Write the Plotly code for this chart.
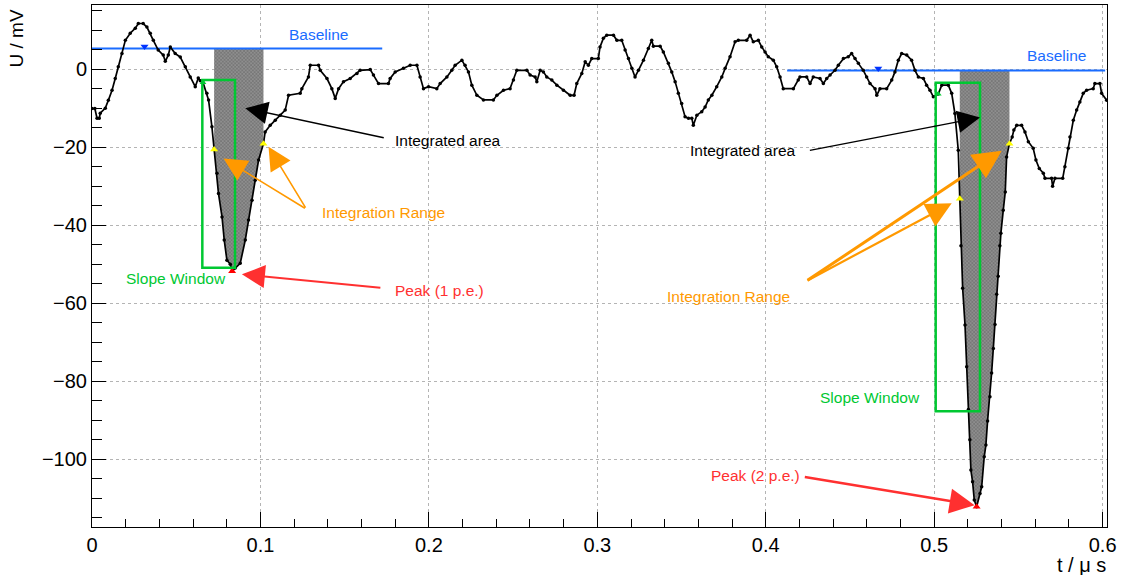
import plotly.graph_objects as go

t_us = [
    0.0000, 0.0017, 0.0030, 0.0043, 0.0049, 0.0079, 0.0097, 0.0119, 0.0138, 0.0156,
    0.0178, 0.0198, 0.0227, 0.0257, 0.0275, 0.0304, 0.0326, 0.0346, 0.0364, 0.0393,
    0.0423, 0.0435, 0.0453, 0.0465, 0.0494, 0.0524, 0.0554, 0.0583, 0.0613, 0.0631,
    0.0643, 0.0659, 0.0682, 0.0692, 0.0712, 0.0725, 0.0742, 0.0751, 0.0772, 0.0785,
    0.0801, 0.0821, 0.0832, 0.0850, 0.0880, 0.0910, 0.0929, 0.0950, 0.0969, 0.0989,
    0.1018, 0.1028, 0.1058, 0.1088, 0.1118, 0.1147, 0.1167, 0.1236, 0.1246, 0.1285,
    0.1296, 0.1345, 0.1355, 0.1395, 0.1424, 0.1444, 0.1464, 0.1493, 0.1533, 0.1573,
    0.1592, 0.1652, 0.1671, 0.1701, 0.1760, 0.1770, 0.1800, 0.1849, 0.1889, 0.1929,
    0.1948, 0.1968, 0.1998, 0.2047, 0.2067, 0.2107, 0.2136, 0.2156, 0.2196, 0.2215,
    0.2235, 0.2255, 0.2285, 0.2324, 0.2383, 0.2404, 0.2443, 0.2482, 0.2502, 0.2522,
    0.2582, 0.2601, 0.2631, 0.2641, 0.2661, 0.2680, 0.2700, 0.2730, 0.2760, 0.2799,
    0.2839, 0.2862, 0.2878, 0.2908, 0.2928, 0.2947, 0.2967, 0.3006, 0.3016, 0.3036,
    0.3056, 0.3096, 0.3116, 0.3145, 0.3165, 0.3185, 0.3205, 0.3224, 0.3244, 0.3274,
    0.3303, 0.3323, 0.3333, 0.3373, 0.3392, 0.3422, 0.3442, 0.3462, 0.3481, 0.3501,
    0.3521, 0.3541, 0.3561, 0.3570, 0.3591, 0.3620, 0.3640, 0.3659, 0.3680, 0.3709,
    0.3739, 0.3759, 0.3788, 0.3818, 0.3837, 0.3887, 0.3907, 0.3926, 0.3956, 0.3976,
    0.3996, 0.4015, 0.4045, 0.4065, 0.4085, 0.4104, 0.4164, 0.4193, 0.4203, 0.4243,
    0.4263, 0.4282, 0.4322, 0.4342, 0.4362, 0.4382, 0.4411, 0.4431, 0.4461, 0.4490,
    0.4510, 0.4530, 0.4550, 0.4579, 0.4599, 0.4619, 0.4649, 0.4659, 0.4678, 0.4718,
    0.4748, 0.4767, 0.4787, 0.4807, 0.4837, 0.4866, 0.4886, 0.4906, 0.4936, 0.4955,
    0.4975, 0.4995, 0.5024, 0.5045, 0.5084, 0.5104, 0.5123, 0.5143, 0.5152, 0.5159,
    0.5169, 0.5183, 0.5193, 0.5203, 0.5212, 0.5218, 0.5228, 0.5238, 0.5252, 0.5272,
    0.5282, 0.5297, 0.5307, 0.5317, 0.5331, 0.5341, 0.5351, 0.5361, 0.5371, 0.5380,
    0.5390, 0.5396, 0.5410, 0.5422, 0.5430, 0.5447, 0.5463, 0.5473, 0.5490, 0.5519,
    0.5539, 0.5559, 0.5588, 0.5604, 0.5624, 0.5648, 0.5658, 0.5697, 0.5703, 0.5717,
    0.5763, 0.5776, 0.5796, 0.5806, 0.5826, 0.5846, 0.5865, 0.5885, 0.5905, 0.5944,
    0.5954, 0.5984, 0.5994, 0.6024,
]
u_mv = [
    -10.1, -10.1, -12.6, -12.6, -11.3, -10.0, -8.0, -5.4, -2.4, 0.6,
    4.0, 7.4, 9.2, 10.5, 11.7, 11.7, 10.8, 9.2, 7.4, 4.9,
    3.6, 2.0, 3.6, 5.7, 4.0, 3.1, 0.6, -2.0, -4.5, -2.3,
    -3.0, -3.4, -6.2, -7.9, -14.8, -20.6, -26.7, -31.9, -37.9, -43.8,
    -49.0, -50.0, -51.8, -51.0, -49.8, -43.8, -38.7, -33.6, -28.5, -23.3,
    -19.1, -16.1, -14.4, -13.1, -11.8, -10.5, -6.7, -6.2, -5.0, -2.0,
    1.0, 1.0, -0.3, -2.4, -5.0, -7.5, -5.0, -3.2, -2.4, -1.1,
    -0.3, -0.1, -1.5, -3.7, -3.7, -2.4, -0.7, 0.2, 1.0, 1.0,
    -2.0, -5.0, -4.5, -5.0, -3.7, -2.0, -0.3, 1.0, 2.3, 1.0,
    -0.7, -4.1, -6.7, -7.9, -7.9, -6.7, -5.4, -5.0, -2.8, -0.3,
    -0.3, -1.5, -2.0, -3.2, -0.3, -0.7, -2.0, -2.8, -4.1, -5.4,
    -6.7, -6.7, -3.7, -1.1, 1.9, 1.0, 2.7, 2.7, 5.7, 7.9,
    8.7, 8.7, 7.4, 7.4, 4.9, 2.7, 0.2, -2.0, -0.3, 2.3,
    5.3, 7.4, 5.9, 5.9, 4.4, 1.5, -0.7, -3.2, -6.2, -8.8,
    -12.2, -12.6, -12.6, -14.4, -11.8, -10.9, -9.7, -7.9, -6.7, -4.5,
    -2.0, 0.2, 3.2, 7.0, 7.4, 7.4, 8.7, 7.0, 7.4, 5.7,
    4.4, 3.2, 2.3, 0.6, -2.0, -5.0, -5.0, -2.8, -2.0, -2.0,
    -3.7, -2.0, -2.4, -3.7, -2.4, -1.5, -0.3, 1.0, 2.7, 3.2,
    4.0, 2.7, 1.5, -0.3, -2.0, -3.7, -5.0, -6.7, -5.0, -5.0,
    -2.8, -0.7, 2.3, 4.0, 3.6, 2.3, -0.3, -2.0, -2.4, -4.1,
    -5.4, -7.1, -6.4, -4.1, -4.1, -6.2, -11.4, -20.8, -33.2, -45.3,
    -56.2, -65.6, -76.3, -87.3, -95.0, -102.8, -105.8, -110.5, -112.2, -108.8,
    -107.1, -99.4, -96.4, -90.2, -84.0, -77.9, -71.6, -65.5, -57.7, -53.1,
    -45.3, -42.1, -36.2, -31.5, -22.5, -19.1, -17.4, -15.6, -14.4, -14.4,
    -16.1, -18.6, -20.3, -23.3, -25.5, -26.7, -28.0, -28.0, -30.0, -28.0,
    -28.0, -25.0, -20.3, -17.4, -13.1, -10.5, -8.4, -6.2, -5.4, -5.0,
    -3.7, -3.7, -6.2, -8.0,
]

# ---- analysis results for the two pulses ----
baseline_mv = [5.3, -0.35]
baseline_from_us = [0.0, 0.4127]
baseline_to_us = [0.1723, 0.6015]
baseline_marker_us = [0.0312, 0.4668]
integ_start_us = [0.0725, 0.5152]
integ_stop_us = [0.1018, 0.5447]
slope_start_us = [0.0655, 0.5009]
slope_stop_us = [0.0849, 0.5272]
slope_top_mv = [-2.8, -3.5]
slope_bottom_mv = [-50.9, -87.7]
slope_marker_us = [0.0659, 0.5024]

BLACK = "#000000"
BLUE = "#1a6cff"
ORANGE = "#ff9900"
GREEN = "#00c832"
RED = "#ff3030"
YELLOW = "#ffff00"
FONT = "Liberation Sans, Arial, Helvetica, sans-serif"


def nearest(t):
    return min(range(len(t_us)), key=lambda i: abs(t_us[i] - t))


fig = go.Figure()

# integrated area between baseline and trace
for k in range(2):
    i0, i1 = nearest(integ_start_us[k]), nearest(integ_stop_us[k])
    xs = [t_us[i0]] + t_us[i0:i1 + 1] + [t_us[i1]]
    ys = [baseline_mv[k]] + u_mv[i0:i1 + 1] + [baseline_mv[k]]
    fig.add_trace(go.Scatter(
        x=xs, y=ys, mode="lines", fill="toself",
        line=dict(width=0, color="rgba(0,0,0,0)"),
        fillcolor="#7a7a7a",
        fillpattern=dict(shape="x", size=2.5, solidity=0.3,
                         fgcolor="#303030", bgcolor="#8e8e8e"),
        hoverinfo="skip", showlegend=False,
    ))

# baselines
for k in range(2):
    fig.add_trace(go.Scatter(
        x=[baseline_from_us[k], baseline_to_us[k]],
        y=[baseline_mv[k], baseline_mv[k]],
        mode="lines", line=dict(color=BLUE, width=2),
        showlegend=False, hoverinfo="skip",
    ))

# the waveform itself
fig.add_trace(go.Scatter(
    x=t_us, y=u_mv, mode="lines+markers",
    line=dict(color=BLACK, width=1.7),
    marker=dict(color=BLACK, size=3.5),
    showlegend=False,
))

# slope windows
for k in range(2):
    fig.add_shape(type="rect", xref="x", yref="y",
                  x0=slope_start_us[k], x1=slope_stop_us[k],
                  y0=slope_bottom_mv[k], y1=slope_top_mv[k],
                  line=dict(color=GREEN, width=2.5))

# markers: baseline, integration limits, peak, slope start
fig.add_trace(go.Scatter(
    x=baseline_marker_us, y=[b + 0.5 for b in baseline_mv], mode="markers",
    marker=dict(symbol="triangle-down", size=7, color="#0033ff"),
    showlegend=False,
))
lim_idx = [nearest(t) for t in integ_start_us + integ_stop_us]
fig.add_trace(go.Scatter(
    x=[t_us[i] for i in lim_idx], y=[u_mv[i] for i in lim_idx], mode="markers",
    marker=dict(symbol="triangle-up", size=7, color=YELLOW),
    showlegend=False,
))
peak_idx = []
for k in range(2):
    i0, i1 = nearest(integ_start_us[k]), nearest(integ_stop_us[k])
    peak_idx.append(min(range(i0, i1 + 1), key=lambda i: u_mv[i]))
fig.add_trace(go.Scatter(
    x=[t_us[i] for i in peak_idx], y=[u_mv[i] for i in peak_idx], mode="markers",
    marker=dict(symbol="triangle-up", size=7, color="#ff0000"),
    showlegend=False,
))
sl_idx = [nearest(t) for t in slope_marker_us]
fig.add_trace(go.Scatter(
    x=[t_us[i] for i in sl_idx], y=[u_mv[i] for i in sl_idx], mode="markers",
    marker=dict(symbol="triangle-up", size=6, color=GREEN),
    showlegend=False,
))

# labels
labels = [
    ("Baseline", 0.1157, 8.9, BLUE),
    ("Baseline", 0.5539, 3.4, BLUE),
    ("Integrated area", 0.1788, -18.2, BLACK),
    ("Integrated area", 0.3541, -20.9, BLACK),
    ("Integration Range", 0.1355, -36.8, ORANGE),
    ("Integration Range", 0.3402, -58.4, ORANGE),
    ("Slope Window", 0.0192, -53.8, GREEN),
    ("Slope Window", 0.4312, -84.2, GREEN),
    ("Peak (1 p.e.)", 0.1786, -56.7, RED),
    ("Peak (2 p.e.)", 0.3663, -104.3, RED),
]
for txt, tx, ty, col in labels:
    fig.add_annotation(x=tx, y=ty, xref="x", yref="y", text=txt,
                       showarrow=False, xanchor="left", yanchor="middle",
                       font=dict(family=FONT, size=15.5, color=col))

# arrows: (tail t, tail U, tip t, tip U, colour, width, size)
arrows = [
    (0.1741, -17.7, 0.0910, -10.0, BLACK, 1.5, 3.0),
    (0.4253, -20.9, 0.5272, -12.4, BLACK, 1.5, 3.0),
    (0.1273, -35.9, 0.0781, -22.9, ORANGE, 1.6, 2.9),
    (0.1273, -35.9, 0.1048, -19.9, ORANGE, 1.6, 2.9),
    (0.4239, -54.4, 0.5401, -20.9, ORANGE, 3.0, 1.9),
    (0.4239, -54.4, 0.5104, -34.4, ORANGE, 2.2, 2.3),
    (0.1721, -56.1, 0.0890, -52.6, RED, 2.0, 2.3),
    (0.4223, -104.5, 0.5240, -111.8, RED, 2.5, 2.0),
]
for ax_, ay_, x_, y_, col, w, s in arrows:
    fig.add_annotation(x=x_, y=y_, ax=ax_, ay=ay_, xref="x", yref="y",
                       axref="x", ayref="y", text="", showarrow=True,
                       arrowhead=2, arrowsize=s, arrowwidth=w, arrowcolor=col)

# axis titles
fig.add_annotation(x=-0.074, y=0.995, xref="paper", yref="paper",
                   text="U / mV", showarrow=False, textangle=-90,
                   xanchor="center", yanchor="top",
                   font=dict(family=FONT, size=19, color=BLACK))
fig.add_annotation(x=1.001, y=-0.073, xref="paper", yref="paper",
                   text="t / μ s", showarrow=False,
                   xanchor="right", yanchor="middle",
                   font=dict(family=FONT, size=20, color=BLACK))

fig.update_xaxes(
    range=[0.0, 0.6026], dtick=0.1, tick0=0, ticks="inside", ticklen=15,
    tickwidth=1, tickcolor=BLACK, showline=True, linecolor=BLACK,
    linewidth=1, mirror=True, showgrid=True, gridcolor="#b4b4b4",
    griddash="dot", gridwidth=1, zeroline=False,
    tickfont=dict(family=FONT, size=20, color=BLACK),
    minor=dict(dtick=0.02, ticks="inside", ticklen=8, tickcolor=BLACK,
               showgrid=False),
)
fig.update_yaxes(
    range=[-117.4, 16.45], dtick=20, tick0=0, ticks="inside", ticklen=14,
    tickwidth=1, tickcolor=BLACK, showline=True, linecolor=BLACK,
    linewidth=1, mirror=True, showgrid=True, gridcolor="#b4b4b4",
    griddash="dot", gridwidth=1, zeroline=False,
    tickfont=dict(family=FONT, size=20, color=BLACK),
    minor=dict(dtick=5, ticks="inside", ticklen=10, tickcolor=BLACK,
               showgrid=False),
)
fig.update_layout(
    width=1129, height=575,
    margin=dict(l=92, r=22, t=5, b=48, autoexpand=False),
    paper_bgcolor="white", plot_bgcolor="white",
    showlegend=False,
)
fig.write_html("out.html")
